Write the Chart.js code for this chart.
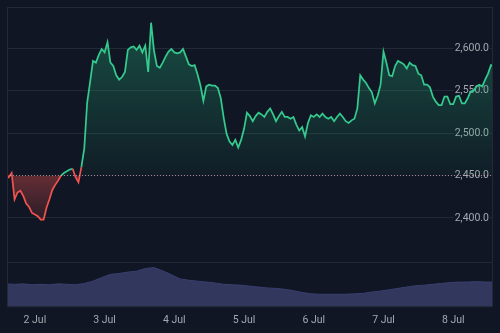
<!DOCTYPE html>
<html>
<head>
<meta charset="utf-8">
<script src="https://cdn.jsdelivr.net/npm/chart.js@4"></script>
<style>
  html, body { margin: 0; padding: 0; background: #101623; }
</style>
</head>
<body>
<canvas id="myChart" width="500" height="333"></canvas>
<script>
// hours are counted from 1 Jul 00:00, one price per hour
const startHour = 14;
const prices = [
    2452, 2448, 2453, 2422, 2430, 2432, 2426, 2417, 2413, 2406, 2404, 2402,
    2398, 2398, 2412, 2422, 2433, 2439, 2444, 2450, 2453, 2455, 2457, 2458,
    2448, 2442, 2460, 2482, 2536, 2560, 2585, 2583, 2592, 2599, 2595, 2607,
    2583, 2579, 2568, 2563, 2566, 2572, 2598, 2601, 2602, 2598, 2603, 2595,
    2603, 2572, 2630, 2597, 2579, 2577, 2583, 2590, 2596, 2599, 2595, 2594,
    2595, 2599, 2590, 2581, 2579, 2580, 2569, 2556, 2538, 2555, 2557, 2556,
    2556, 2553, 2541, 2518, 2499, 2490, 2486, 2492, 2483, 2492, 2505, 2524,
    2520, 2514, 2520, 2524, 2522, 2519, 2525, 2529, 2522, 2514, 2520, 2525,
    2519, 2519, 2517, 2519, 2510, 2503, 2507, 2496, 2512, 2521, 2519, 2522,
    2519, 2523, 2519, 2517, 2519, 2514, 2519, 2523, 2519, 2514, 2512, 2515,
    2517, 2529, 2568, 2563, 2559, 2553, 2548, 2535, 2544, 2557, 2596, 2583,
    2568, 2567, 2579, 2585, 2583, 2581, 2576, 2583, 2580, 2579, 2570, 2568,
    2557, 2557, 2554, 2543, 2537, 2533, 2533, 2543, 2543, 2534, 2534, 2543,
    2544, 2535, 2535, 2541, 2549, 2550, 2555, 2557, 2555, 2563, 2570, 2580,
    2579
];

// volume, one value every 3 hours (100 = top of the volume pane)
const volumeStart = 14;
const volumeStep = 3;
const volumes = [
    52, 51, 52, 50, 51, 50, 52, 51, 50, 53,
    58, 66, 73, 75, 78, 80, 86, 88, 81, 72,
    63, 60, 58, 56, 54, 51, 50, 49, 47, 45,
    43, 42, 40, 37, 33, 30, 29, 29, 29, 29,
    30, 31, 34, 36, 39, 42, 45, 48, 49, 51,
    53, 55, 56, 56, 57, 56, 56
];

const baseValue = 2450;
const priceTicks = [2400, 2450, 2500, 2550, 2600];
const dayHours = [24, 48, 72, 96, 120, 144, 168];
const dayLabels = ['2 Jul', '3 Jul', '4 Jul', '5 Jul', '6 Jul', '7 Jul', '8 Jul'];

const xMin = 14.4, xMax = 181.7;
const bg = '#101623';
const gridColor = '#232937';
const textColor = '#a4a8b2';
const upColor = '#34c98d';
const downColor = '#ef5350';

const priceData = prices.map((p, i) => ({ x: startHour + i, y: p }));
const volumeData = volumes.map((v, i) => ({ x: volumeStart + i * volumeStep, y: v }));

const frame = {
    id: 'frame',
    afterDraw(chart) {
        const a = chart.chartArea;
        const c = chart.ctx;
        c.save();
        c.strokeStyle = gridColor;
        c.lineWidth = 1;
        c.strokeRect(Math.round(a.left) + 0.5, Math.round(a.top) + 0.5,
            Math.round(a.right - a.left) - 1, Math.round(a.bottom - a.top) - 1);
        c.restore();
    }
};

const ctx = document.getElementById('myChart').getContext('2d');
const myChart = new Chart(ctx, {
    type: 'line',
    data: {
        datasets: [{
            data: priceData,
            yAxisID: 'y',
            borderWidth: 1.75,
            pointRadius: 0,
            tension: 0,
            borderColor: upColor,
            segment: {
                borderColor: c => (c.p0.parsed.y < baseValue || c.p1.parsed.y < baseValue) ? downColor : upColor
            },
            fill: { target: { value: baseValue }, above: 'rgba(38,170,120,0.2)', below: 'rgba(239,83,80,0.25)' },
            order: 1
        }, {
            data: [{ x: xMin, y: baseValue }, { x: xMax, y: baseValue }],
            yAxisID: 'y',
            borderColor: 'rgba(190,195,205,0.7)',
            borderWidth: 1,
            borderDash: [1, 2],
            pointRadius: 0,
            fill: false,
            order: 0
        }, {
            data: volumeData,
            yAxisID: 'yv',
            borderColor: '#3a3f6e',
            borderWidth: 1,
            backgroundColor: '#32375e',
            pointRadius: 0,
            fill: 'origin',
            order: 2
        }]
    },
    options: {
        responsive: false,
        animation: false,
        layout: { padding: { left: 7, top: 7, right: 7, bottom: -1 } },
        plugins: { legend: { display: false }, tooltip: { enabled: false } },
        scales: {
            x: {
                type: 'linear',
                min: xMin,
                max: xMax,
                grid: { display: false, drawTicks: false },
                border: { display: false },
                afterBuildTicks: axis => { axis.ticks = dayHours.map(v => ({ value: v })); },
                ticks: {
                    autoSkip: false,
                    maxRotation: 0,
                    padding: 7,
                    color: textColor,
                    font: { family: 'Roboto', size: 10.5 },
                    callback: (v, i) => dayLabels[i]
                }
            },
            y: {
                position: 'right',
                min: 2294.7,
                max: 2648.5,
                afterBuildTicks: axis => { axis.ticks = priceTicks.map(v => ({ value: v })); },
                afterFit: axis => { axis.width = 0; },
                grid: {
                    drawTicks: false,
                    color: c => (c.tick && c.tick.value === baseValue) ? 'rgba(0,0,0,0)' : gridColor
                },
                border: { display: false },
                ticks: {
                    mirror: true,
                    padding: -4,
                    color: textColor,
                    font: { family: 'Roboto', size: 10.5 },
                    showLabelBackdrop: true,
                    backdropColor: bg,
                    backdropPadding: 1,
                    callback: v => v.toLocaleString('en-US', { minimumFractionDigits: 1, maximumFractionDigits: 1 })
                }
            },
            yv: {
                position: 'left',
                min: 0,
                max: 664,
                afterBuildTicks: axis => { axis.ticks = [{ value: 100 }]; },
                grid: { drawTicks: false, color: gridColor },
                border: { display: false },
                ticks: { display: false }
            }
        }
    },
    plugins: [frame]
});

// gradient fills need the scale pixels, so set them once the layout is known
const ys = myChart.scales.y;
const topPx = ys.getPixelForValue(Math.max(...prices));
const basePx = ys.getPixelForValue(baseValue);
const lowPx = ys.getPixelForValue(Math.min(...prices));
const green = ctx.createLinearGradient(0, topPx, 0, basePx);
green.addColorStop(0, 'rgba(38,170,120,0.38)');
green.addColorStop(1, 'rgba(38,170,120,0.05)');
const red = ctx.createLinearGradient(0, basePx, 0, lowPx);
red.addColorStop(0, 'rgba(239,83,80,0.38)');
red.addColorStop(1, 'rgba(239,83,80,0.12)');
myChart.data.datasets[0].fill = { target: { value: baseValue }, above: green, below: red };
myChart.update('none');
</script>
</body>
</html>
